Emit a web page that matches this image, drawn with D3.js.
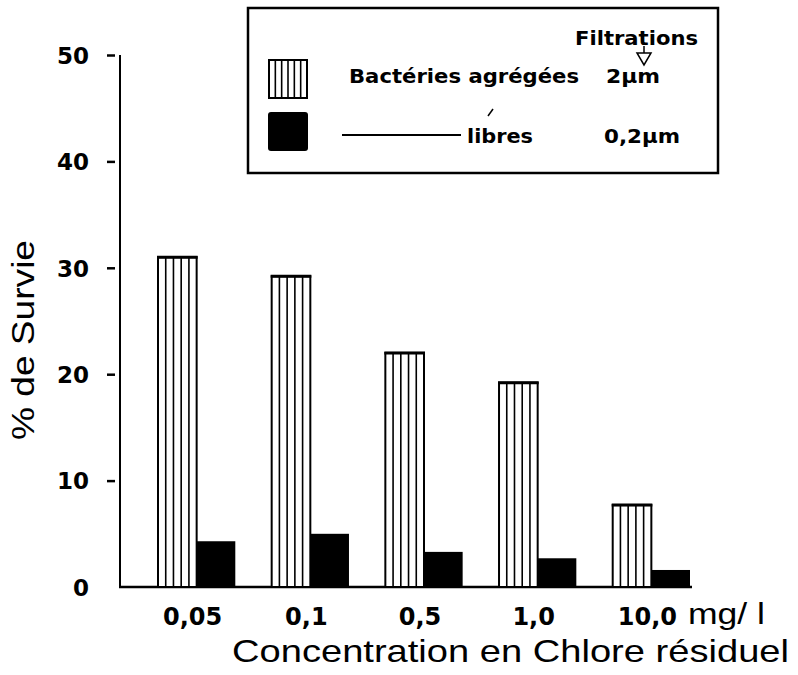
<!DOCTYPE html>
<html><head><meta charset="utf-8">
<script src="https://cdn.jsdelivr.net/npm/d3@7"></script>
<style>body{margin:0;background:#fff}svg{display:block}</style>
</head><body><svg id="c" width="798" height="675"></svg>
<script>
const categories = ["0,05","0,1","0,5","1,0","10,0"];
const aggregated = [31.0, 29.2, 22.0, 19.2, 7.7];
const free = [4.3, 5.0, 3.3, 2.7, 1.6];
const yTicks = [0,10,20,30,40,50];

const svg = d3.select("#c");
const FONT = "'Liberation Sans', Arial, Helvetica, sans-serif";
const BFONT = "'DejaVu Sans', Verdana, sans-serif";
const x = d3.scaleBand().domain(categories).range([158, 690]).paddingInner(0.32).paddingOuter(0);
const y = d3.scaleLinear().domain([0,50]).range([587, 55]);
const bw = x.bandwidth()/2;

// y axis
const yAxis = d3.axisLeft(y).tickValues(yTicks).tickFormat(d3.format("d")).tickSize(0).tickPadding(31);
const ga = svg.append("g").attr("transform","translate(120,0)").call(yAxis);
ga.select(".domain").remove();
ga.selectAll(".tick text").attr("font-family",BFONT).attr("font-weight","bold").attr("font-size",23).attr("fill","#000").attr("dy","0.36em");
ga.selectAll(".tick").filter(d=>d!==0).append("line").attr("x1",-13).attr("x2",-5).attr("stroke","#000").attr("stroke-width",2.5);
svg.append("line").attr("x1",120).attr("x2",120).attr("y1",y(50)).attr("y2",y(0)).attr("stroke","#000").attr("stroke-width",2);
svg.append("line").attr("x1",119).attr("x2",692).attr("y1",y(0)).attr("y2",y(0)).attr("stroke","#000").attr("stroke-width",2.5);

// bars
const g = svg.append("g");
categories.forEach((c,i)=>{
  const x0 = x(c);
  const top = y(aggregated[i]);
  g.append("rect").attr("x",x0).attr("y",top).attr("width",bw).attr("height",y(0)-top)
    .attr("fill","#fff").attr("stroke","#000").attr("stroke-width",2);
  for(let k=1;k<5;k++){
    g.append("line").attr("x1",x0+bw*k/5).attr("x2",x0+bw*k/5).attr("y1",top).attr("y2",y(0))
      .attr("stroke","#000").attr("stroke-width",1.6);
  }
  g.append("line").attr("x1",x0-1).attr("x2",x0+bw+1).attr("y1",top).attr("y2",top).attr("stroke","#000").attr("stroke-width",3);
  const t2 = y(free[i]);
  g.append("rect").attr("x",x0+bw).attr("y",t2).attr("width",bw).attr("height",y(0)-t2).attr("fill","#000");
  svg.append("text").attr("x",x0+bw-4).attr("y",625).attr("text-anchor","middle")
    .attr("font-family",BFONT).attr("font-weight","bold").attr("font-size",24).text(c);
});
svg.append("text").attr("x",688).attr("y",624).attr("font-family",FONT).attr("font-size",29).attr("textLength",77).attr("lengthAdjust","spacingAndGlyphs").text("mg/ l");
svg.append("text").attr("x",232).attr("y",662).attr("font-family",FONT).attr("font-size",32).attr("textLength",557).attr("lengthAdjust","spacingAndGlyphs").text("Concentration en  Chlore résiduel");
svg.append("text").attr("transform","translate(34,340) rotate(-90)").attr("text-anchor","middle")
  .attr("font-family",FONT).attr("font-size",31).attr("textLength",200).attr("lengthAdjust","spacingAndGlyphs").text("% de Survie");

// legend
const L = svg.append("g");
L.append("rect").attr("x",248).attr("y",8).attr("width",470).attr("height",165).attr("fill","#fff").attr("stroke","#000").attr("stroke-width",2.5);
L.append("rect").attr("x",269).attr("y",60).attr("width",38).attr("height",38).attr("fill","#fff").attr("stroke","#000").attr("stroke-width",2);
for(let k=1;k<6;k++) L.append("line").attr("x1",269+38*k/6).attr("x2",269+38*k/6).attr("y1",60).attr("y2",98).attr("stroke","#000").attr("stroke-width",1.6);
L.append("rect").attr("x",268).attr("y",112).attr("width",40).attr("height",39).attr("rx",3).attr("fill","#000");
const lt = (xx,yy,t,w)=>L.append("text").attr("x",xx).attr("y",yy).attr("font-family",BFONT).attr("font-weight","bold").attr("font-size",19).attr("textLength",w).attr("lengthAdjust","spacingAndGlyphs").text(t);
lt(349,83,"Bactéries agrégées",230);
lt(606,83,"2µm",54);
lt(575,45,"Filtrations",123);
lt(467,143,"libres",66);
lt(604,143,"0,2µm",76);
L.append("line").attr("x1",342).attr("x2",461).attr("y1",135).attr("y2",135).attr("stroke","#000").attr("stroke-width",2);
L.append("line").attr("x1",644).attr("x2",644).attr("y1",46).attr("y2",53).attr("stroke","#000").attr("stroke-width",1.5);
L.append("path").attr("d","M637,53 L651,53 L644,65 Z").attr("fill","#fff").attr("stroke","#000").attr("stroke-width",1.5);
L.append("line").attr("x1",488).attr("x2",493).attr("y1",116).attr("y2",109).attr("stroke","#000").attr("stroke-width",1.5);
</script></body></html>
